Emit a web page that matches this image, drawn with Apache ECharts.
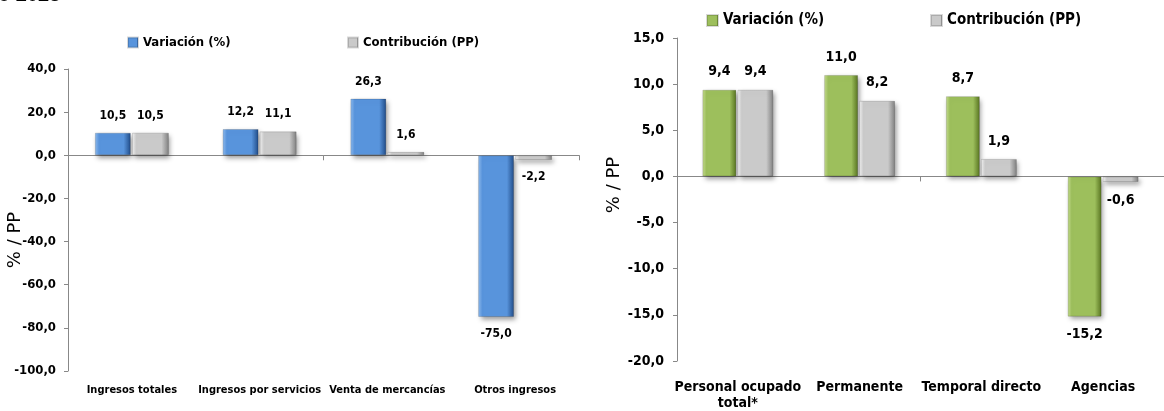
<!DOCTYPE html>
<html>
<head>
<meta charset="utf-8">
<script src="https://cdn.jsdelivr.net/npm/echarts@6/dist/echarts.min.js"></script>
<style>
  html, body { margin: 0; padding: 0; background: #fff; }
  #main { width: 1164px; height: 411px; }
</style>
</head>
<body>
<div id="main"></div>
<script>
// left chart: ingresos
const cats1 = ['Ingresos totales', 'Ingresos por servicios', 'Venta de mercancías', 'Otros ingresos'];
const variacion1 = [10.5, 12.2, 26.3, -75.0];
const contrib1 = [10.5, 11.1, 1.6, -2.2];
const yTicks1 = [-100, -80, -60, -40, -20, 0, 20, 40];

// right chart: personal ocupado
const cats2 = ['Personal ocupado\ntotal*', 'Permanente', 'Temporal directo', 'Agencias'];
const variacion2 = [9.4, 11.0, 8.7, -15.2];
const contrib2 = [9.4, 8.2, 1.9, -0.6];
const yTicks2 = [-20, -15, -10, -5, 0, 5, 10, 15];

const legendNames = ['Variación (%)', 'Contribución (PP)'];

const FONT = "'Liberation Sans Narrow', 'DejaVu Sans Condensed', sans-serif";

const fmt = v => v.toFixed(1).replace('.', ',');

function bevel(light, body, dark) {
  return new echarts.graphic.LinearGradient(0, 0, 1, 0, [
    { offset: 0, color: light },
    { offset: 0.12, color: body },
    { offset: 0.8, color: body },
    { offset: 1, color: dark }
  ]);
}
const blue = () => bevel('#8fbdf0', '#5894dc', '#1f4a86');
const green = () => bevel('#c7de8f', '#9dbf5c', '#56721f');
const grey = () => bevel('#f4f4f4', '#cacaca', '#7e7e7e');

function barData(vals) {
  return vals.map(v => ({
    value: v,
    label: { position: v < 0 ? 'bottom' : 'top' }
  }));
}

function barSeries(name, vals, xi, yi, color, width, size) {
  return {
    name: name,
    type: 'bar',
    xAxisIndex: xi,
    yAxisIndex: yi,
    barWidth: width,
    barGap: '3%',
    data: barData(vals),
    itemStyle: {
      color: color,
      borderColor: 'rgba(0,0,0,0.15)',
      borderWidth: 1,
      shadowBlur: 5,
      shadowOffsetX: 2,
      shadowOffsetY: 3,
      shadowColor: 'rgba(0,0,0,0.4)'
    },
    label: {
      show: true,
      distance: 11,
      formatter: p => fmt(p.value),
      fontFamily: FONT,
      fontWeight: 'bold',
      fontSize: size,
      color: '#000'
    }
  };
}

function yAxis(grid, ticks, size, margin) {
  return {
    type: 'value',
    gridIndex: grid,
    min: ticks[0],
    max: ticks[ticks.length - 1],
    interval: ticks[1] - ticks[0],
    splitLine: { show: false },
    axisLine: { show: true, lineStyle: { color: '#888' } },
    axisTick: { show: true, length: 4, lineStyle: { color: '#888' } },
    axisLabel: {
      formatter: v => fmt(v),
      fontFamily: FONT, fontWeight: 'bold', fontSize: size, color: '#000', margin: margin
    }
  };
}

function xLineAxis(grid, cats) {
  return {
    type: 'category', gridIndex: grid, data: cats, position: 'bottom',
    axisLine: { onZero: true, lineStyle: { color: '#888' } },
    axisTick: { show: true, length: 5, lineStyle: { color: '#888' } },
    axisLabel: { show: false }
  };
}

function xLabelAxis(grid, cats, size, margin) {
  return {
    type: 'category', gridIndex: grid, data: cats, position: 'bottom',
    axisLine: { show: false, onZero: false },
    axisTick: { show: false },
    axisLabel: {
      interval: 0, margin: margin, lineHeight: 16,
      fontFamily: FONT, fontWeight: 'bold', fontSize: size, color: '#000'
    }
  };
}

function legend(left, top, name, color, size, icon) {
  return {
    left: left, top: top, padding: 0,
    itemWidth: icon, itemHeight: icon,
    icon: 'rect',
    selectedMode: false,
    data: [{ name: name, itemStyle: { color: color } }],
    textStyle: { fontFamily: FONT, fontWeight: 'bold', fontSize: size, color: '#000' }
  };
}

const chart = echarts.init(document.getElementById('main'));
chart.setOption({
  animation: false,
  grid: [
    { left: 68, top: 69, width: 511, height: 302 },
    { left: 677, top: 38, width: 494, height: 323 }
  ],
  xAxis: [
    xLineAxis(0, cats1),
    xLabelAxis(0, cats1, 11, 11),
    xLineAxis(1, cats2),
    xLabelAxis(1, cats2, 14, 18)
  ],
  yAxis: [
    yAxis(0, yTicks1, 13, 12),
    yAxis(1, yTicks2, 14, 13)
  ],
  legend: [
    legend(127, 36, legendNames[0], blue(), 13, 10),
    legend(347, 36, legendNames[1], grey(), 13, 10),
    legend(706, 13, legendNames[0], green(), 15, 11),
    legend(930, 13, legendNames[1], grey(), 15, 11)
  ],
  graphic: [
    {
      type: 'text', left: -2, top: -15,
      style: { text: 'o 2023', fontFamily: "'Liberation Sans', sans-serif", fontWeight: 'bold', fontSize: 20, fill: '#000' }
    },
    {
      type: 'text', x: 15, y: 240, rotation: Math.PI / 2,
      style: { text: '% / PP', fontFamily: "'DejaVu Sans', sans-serif", fontSize: 18, fill: '#000', align: 'center', verticalAlign: 'middle' }
    },
    {
      type: 'text', x: 614, y: 185, rotation: Math.PI / 2,
      style: { text: '% / PP', fontFamily: "'DejaVu Sans', sans-serif", fontSize: 18, fill: '#000', align: 'center', verticalAlign: 'middle' }
    }
  ],
  series: [
    barSeries(legendNames[0], variacion1, 0, 0, blue(), 36, 12),
    barSeries(legendNames[1], contrib1, 0, 0, grey(), 37, 12),
    barSeries(legendNames[0], variacion2, 2, 1, green(), 34, 14),
    barSeries(legendNames[1], contrib2, 2, 1, grey(), 36, 14)
  ]
});
</script>
</body>
</html>
